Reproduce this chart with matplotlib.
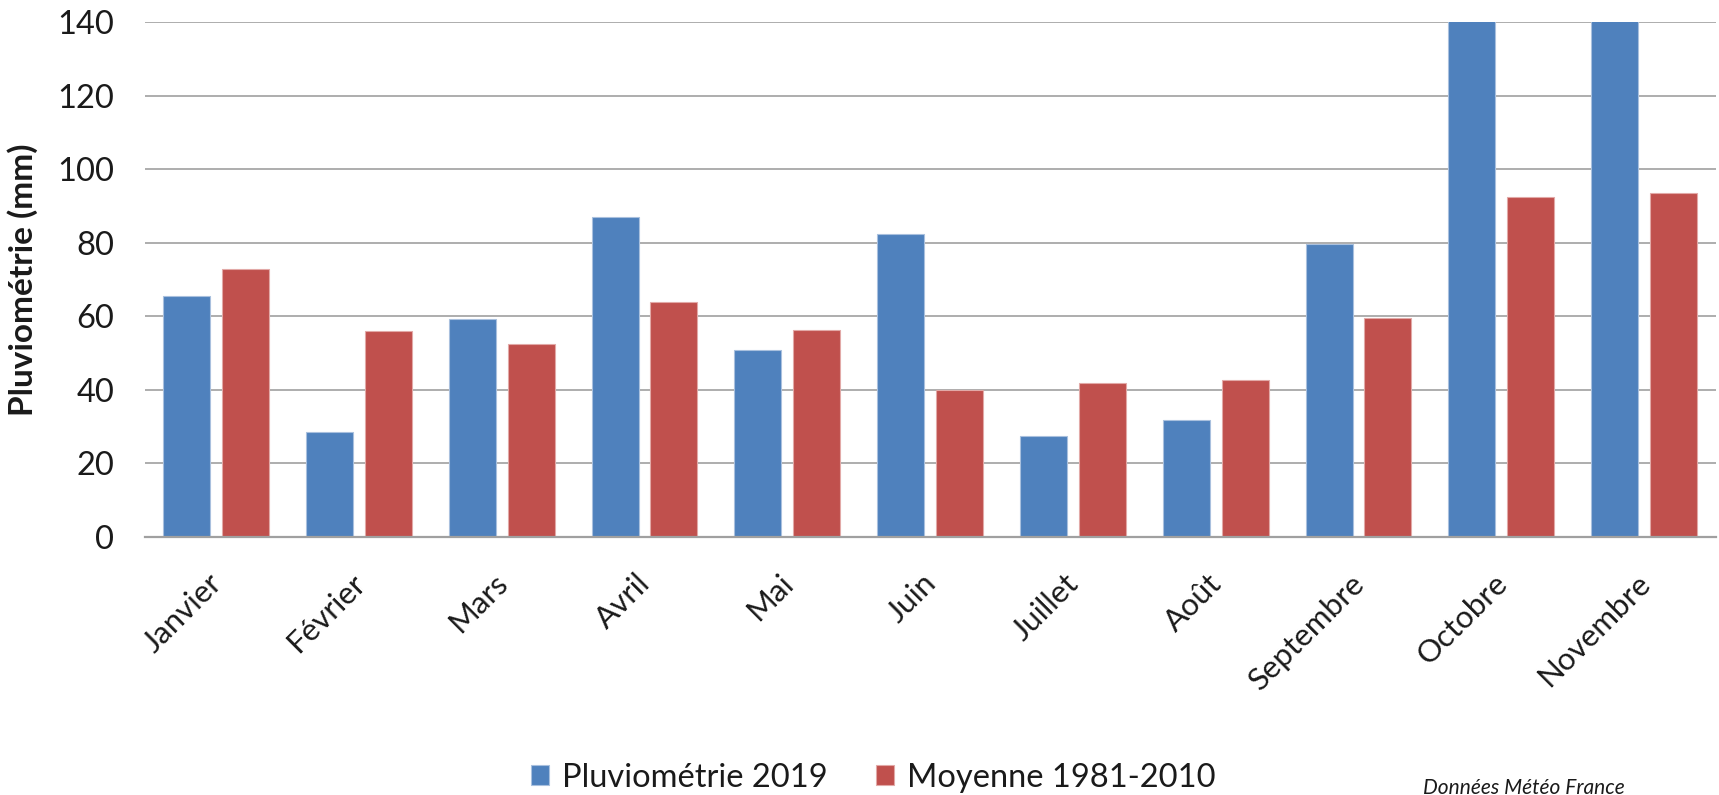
import matplotlib
matplotlib.use("Agg")
import matplotlib.pyplot as plt
import matplotlib.transforms as mtransforms
from matplotlib.patches import Patch
import numpy as np

months = ["Janvier", "Février", "Mars", "Avril", "Mai", "Juin", "Juillet",
          "Août", "Septembre", "Octobre", "Novembre"]
pluvio_2019 = [65.5, 28.6, 59.3, 86.9, 50.9, 82.5, 27.4, 31.9, 79.6, 150, 150]
moyenne_1981_2010 = [72.8, 56.1, 52.6, 64.0, 56.3, 39.9, 42.0, 42.6, 59.6, 92.4, 93.4]
yticks = [0, 20, 40, 60, 80, 100, 120, 140]

blue = "#4F81BD"
red = "#C0504D"
grid_c = "#A0A0A0"
txt_c = "#1a1a1a"
font = "Lato"

fig = plt.figure(figsize=(17.19, 7.95), dpi=100)
ax = fig.add_axes([0.0842, 0.3245, 0.9138, 0.6478])

x = np.arange(len(months))
w = 0.329
off = 0.206
ax.bar(x - off, pluvio_2019, width=w, color=blue, edgecolor="#A9C0DE",
       linewidth=0.8, zorder=3)
ax.bar(x + off, moyenne_1981_2010, width=w, color=red, edgecolor="#E2A9A7",
       linewidth=0.8, zorder=3)

ax.set_xlim(-0.5, len(months) - 0.5)
ax.set_ylim(0, 140)
ax.set_yticks(yticks)
ax.set_yticklabels([str(v) for v in yticks], fontsize=23.5, family=font,
                   color=txt_c)
ax.yaxis.grid(True, color=grid_c, linewidth=1.2, zorder=0)
ax.set_axisbelow(True)
ax.tick_params(axis="y", length=0, pad=22)
ax.tick_params(axis="x", length=0, pad=23)
ax.set_xticks(x)
ax.set_xticklabels(months, rotation=45, ha="right", va="top",
                   fontsize=22.5, family=font, color=txt_c)
shift = mtransforms.ScaledTranslation(8 / 72, 0, fig.dpi_scale_trans)
for lbl in ax.get_xticklabels():
    lbl.set_transform(lbl.get_transform() + shift)

for s in ["left", "right", "top"]:
    ax.spines[s].set_visible(False)
ax.spines["bottom"].set_color(grid_c)
ax.spines["bottom"].set_linewidth(1.6)
ax.spines["bottom"].set_zorder(4)

ax.set_ylabel("Pluviométrie (mm)", fontsize=24, fontweight="bold",
              family=font, color=txt_c, labelpad=14)

handles = [Patch(facecolor=blue, edgecolor="#A9C0DE", linewidth=0.8),
           Patch(facecolor=red, edgecolor="#E2A9A7", linewidth=0.8)]
fig.legend(handles, ["Pluviométrie 2019", "Moyenne 1981-2010"],
           loc="center", bbox_to_anchor=(0.508, 0.022), ncol=2, frameon=False,
           prop={"family": font, "size": 23.5}, handlelength=0.55,
           handleheight=0.6, handletextpad=0.4, columnspacing=1.5,
           labelcolor=txt_c)

fig.text(0.828, 0.022, "Données Météo France", fontsize=15, style="italic",
         family=font, ha="left", va="top", color=txt_c)

fig.savefig("out.png", dpi=100)
